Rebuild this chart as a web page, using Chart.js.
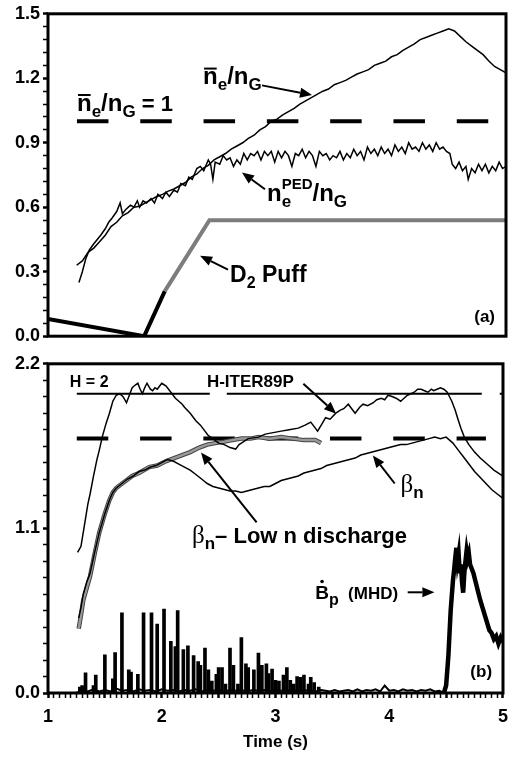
<!DOCTYPE html>
<html>
<head>
<meta charset="utf-8">
<script src="https://cdn.jsdelivr.net/npm/chart.js@4.4.1/dist/chart.umd.min.js"></script>
<style>
  html, body { margin:0; padding:0; background:#fff; }
  #wrap { position:relative; width:516px; height:757px; }
  #topBox { position:absolute; left:0; top:0; width:516px; height:350px; }
  #botBox { position:absolute; left:0; top:350px; width:516px; height:407px; }
</style>
</head>
<body>
<div id="wrap">
  <div id="topBox"><canvas id="chartA" width="516" height="350"></canvas></div>
  <div id="botBox"><canvas id="chartB" width="516" height="407"></canvas></div>
</div>
<script>
const FONT = "'Liberation Sans', Arial, Helvetica, sans-serif";
const SERIF = "'Liberation Serif', 'Times New Roman', serif";
Chart.defaults.font.family = FONT;
Chart.defaults.color = '#000';

// ---------- panel (a): density ----------
const neTime = [1.25,1.30,1.35,1.40,1.45,1.50,1.55,1.60,1.65,1.70,1.75,1.80,1.85,1.90,1.95,2.00,2.05,2.10,2.15,2.20,2.25,2.30,2.35,2.40,2.45,2.50,2.55,2.60,2.65,2.70,2.75,2.80,2.85,2.90,2.95,3.00,3.05,3.10,3.15,3.20,3.25,3.30,3.35,3.40,3.45,3.50,3.55,3.60,3.65,3.70,3.75,3.80,3.85,3.90,3.95,4.00,4.05,4.10,4.15,4.20,4.25,4.30,4.35,4.40,4.45,4.50,4.55,4.60,4.65,4.70,4.75,4.80,4.85,4.90,4.95,5.00];
const neRatio = [0.33,0.35,0.39,0.41,0.44,0.47,0.51,0.53,0.56,0.575,0.60,0.605,0.62,0.635,0.65,0.66,0.675,0.685,0.70,0.715,0.74,0.755,0.78,0.795,0.82,0.835,0.85,0.87,0.885,0.90,0.92,0.935,0.96,0.975,1.00,1.01,1.03,1.045,1.06,1.08,1.095,1.11,1.125,1.14,1.15,1.17,1.18,1.19,1.205,1.22,1.23,1.24,1.26,1.27,1.28,1.30,1.31,1.33,1.345,1.36,1.38,1.39,1.40,1.41,1.42,1.43,1.42,1.395,1.37,1.35,1.33,1.31,1.28,1.255,1.24,1.225];
// pedestal density / Greenwald  [time, value]
const pedPoints = [[1.27,0.25],[1.30,0.30],[1.33,0.36],[1.36,0.40],[1.40,0.43],[1.43,0.45],[1.46,0.47],[1.50,0.50],[1.53,0.53],[1.56,0.55],[1.60,0.58],[1.63,0.62],[1.65,0.57],[1.68,0.59],[1.72,0.61],[1.75,0.60],[1.78,0.63],[1.80,0.60],[1.83,0.63],[1.86,0.62],[1.90,0.64],[1.93,0.62],[1.96,0.66],[2.00,0.64],[2.03,0.67],[2.06,0.65],[2.10,0.68],[2.13,0.67],[2.16,0.71],[2.20,0.70],[2.23,0.74],[2.26,0.73],[2.30,0.78],[2.33,0.79],[2.36,0.77],[2.40,0.82],[2.42,0.80],[2.44,0.73],[2.46,0.81],[2.50,0.80],[2.53,0.84],[2.56,0.82],[2.59,0.83],[2.62,0.79],[2.65,0.82],[2.68,0.80],[2.71,0.85],[2.74,0.82],[2.77,0.85],[2.80,0.84],[2.83,0.86],[2.86,0.82],[2.89,0.86],[2.92,0.84],[2.95,0.86],[2.98,0.81],[3.01,0.86],[3.04,0.83],[3.07,0.86],[3.10,0.84],[3.13,0.79],[3.16,0.85],[3.19,0.84],[3.22,0.87],[3.25,0.83],[3.28,0.86],[3.31,0.84],[3.34,0.79],[3.37,0.86],[3.40,0.84],[3.43,0.85],[3.46,0.82],[3.49,0.84],[3.52,0.83],[3.55,0.86],[3.58,0.82],[3.61,0.85],[3.64,0.83],[3.67,0.87],[3.70,0.84],[3.73,0.86],[3.76,0.82],[3.79,0.88],[3.82,0.85],[3.85,0.87],[3.88,0.84],[3.91,0.88],[3.94,0.85],[3.97,0.87],[4.00,0.84],[4.03,0.89],[4.06,0.86],[4.09,0.88],[4.12,0.85],[4.15,0.90],[4.18,0.87],[4.21,0.88],[4.24,0.86],[4.27,0.90],[4.30,0.87],[4.33,0.89],[4.36,0.86],[4.39,0.90],[4.42,0.87],[4.45,0.88],[4.48,0.86],[4.51,0.85],[4.53,0.80],[4.56,0.78],[4.59,0.81],[4.62,0.77],[4.65,0.79],[4.67,0.73],[4.70,0.78],[4.73,0.76],[4.76,0.80],[4.79,0.77],[4.82,0.80],[4.85,0.76],[4.88,0.79],[4.91,0.77],[4.94,0.81],[4.97,0.78],[5.00,0.79]];
const puffBlack = [[1.00,0.08],[1.84,0.0],[2.02,0.21]];
const puffGray = [[2.02,0.21],[2.41,0.54],[5.00,0.54]];
const greenwaldLine = [[1.253,1.0],[4.85,1.0]];

// ---------- panel (b): confinement, beta, MHD ----------
const hIterPoints = [[1.26,0.94],[1.29,0.98],[1.32,1.12],[1.35,1.26],[1.37,1.33],[1.40,1.45],[1.43,1.56],[1.45,1.62],[1.48,1.72],[1.51,1.80],[1.54,1.87],[1.57,1.95],[1.60,1.99],[1.63,2.00],[1.66,1.98],[1.69,1.94],[1.72,2.00],[1.74,2.04],[1.77,2.06],[1.79,2.07],[1.81,2.03],[1.83,2.00],[1.85,2.04],[1.87,2.07],[1.90,2.03],[1.92,2.02],[1.94,2.04],[1.96,2.03],[1.98,2.05],[2.00,2.07],[2.02,2.06],[2.04,2.05],[2.07,2.02],[2.09,2.00],[2.12,1.97],[2.15,1.95],[2.18,1.93],[2.20,1.91],[2.25,1.87],[2.30,1.82],[2.34,1.79],[2.37,1.76],[2.41,1.72],[2.45,1.70],[2.50,1.67],[2.55,1.66],[2.60,1.64],[2.65,1.63],[2.68,1.66],[2.72,1.68],[2.76,1.70],[2.85,1.71],[2.91,1.73],[2.98,1.74],[3.05,1.75],[3.12,1.76],[3.20,1.77],[3.26,1.79],[3.31,1.81],[3.34,1.78],[3.37,1.75],[3.41,1.80],[3.44,1.84],[3.48,1.83],[3.53,1.87],[3.57,1.89],[3.60,1.90],[3.64,1.93],[3.67,1.90],[3.70,1.87],[3.74,1.91],[3.77,1.93],[3.81,1.92],[3.86,1.94],[3.89,1.96],[3.93,1.97],[3.96,1.96],[3.99,1.99],[4.03,1.98],[4.06,1.97],[4.10,1.95],[4.13,1.97],[4.16,1.99],[4.19,2.00],[4.22,2.01],[4.25,2.03],[4.28,2.03],[4.31,2.02],[4.34,2.01],[4.37,2.03],[4.39,2.02],[4.42,2.03],[4.45,2.04],[4.48,2.03],[4.51,2.01],[4.53,1.98],[4.55,1.95],[4.58,1.89],[4.60,1.84],[4.63,1.77],[4.66,1.71],[4.70,1.66],[4.75,1.61],[4.80,1.57],[4.86,1.53],[4.92,1.49],[4.96,1.47],[5.00,1.45]];
const betaNPoints = [[1.27,0.50],[1.29,0.57],[1.31,0.66],[1.34,0.74],[1.37,0.80],[1.41,0.94],[1.45,1.07],[1.50,1.20],[1.54,1.29],[1.57,1.34],[1.60,1.37],[1.65,1.40],[1.70,1.43],[1.75,1.45],[1.80,1.48],[1.85,1.49],[1.90,1.51],[1.95,1.52],[2.00,1.54],[2.05,1.56],[2.10,1.55],[2.15,1.53],[2.20,1.51],[2.25,1.49],[2.30,1.46],[2.35,1.43],[2.40,1.40],[2.45,1.38],[2.50,1.37],[2.55,1.36],[2.60,1.35],[2.65,1.35],[2.70,1.34],[2.75,1.35],[2.80,1.36],[2.85,1.37],[2.90,1.38],[2.95,1.38],[3.00,1.40],[3.05,1.42],[3.10,1.43],[3.15,1.44],[3.20,1.45],[3.25,1.47],[3.30,1.48],[3.35,1.49],[3.40,1.50],[3.45,1.52],[3.50,1.53],[3.55,1.54],[3.60,1.55],[3.65,1.56],[3.70,1.57],[3.75,1.59],[3.80,1.60],[3.85,1.61],[3.90,1.62],[3.95,1.63],[4.00,1.64],[4.05,1.65],[4.10,1.66],[4.15,1.66],[4.20,1.67],[4.25,1.68],[4.30,1.69],[4.35,1.70],[4.40,1.71],[4.45,1.70],[4.50,1.71],[4.53,1.69],[4.56,1.67],[4.60,1.63],[4.65,1.58],[4.70,1.53],[4.75,1.48],[4.80,1.44],[4.85,1.40],[4.90,1.36],[4.95,1.33],[5.00,1.30]];
const lowNPoints = [[1.27,0.43],[1.29,0.52],[1.31,0.62],[1.34,0.70],[1.37,0.78],[1.41,0.93],[1.45,1.07],[1.50,1.20],[1.54,1.29],[1.57,1.34],[1.60,1.37],[1.67,1.41],[1.74,1.45],[1.80,1.47],[1.89,1.51],[1.96,1.52],[2.04,1.55],[2.11,1.57],[2.18,1.59],[2.25,1.61],[2.33,1.64],[2.40,1.66],[2.47,1.67],[2.55,1.68],[2.62,1.69],[2.70,1.70],[2.78,1.70],[2.85,1.71],[2.95,1.70],[3.05,1.71],[3.15,1.70],[3.25,1.69],[3.35,1.69],[3.40,1.67]];
const hTwoLine = [[1.253,2.0],[5.0,2.0]];
const betaRefLine = [[1.253,1.7],[4.85,1.7]];
// Bdot spikes
const bdotTime = [1.28,1.30,1.33,1.40,1.42,1.50,1.57,1.59,1.65,1.71,1.73,1.79,1.84,1.91,1.96,2.02,2.08,2.12,2.14,2.19,2.23,2.28,2.32,2.34,2.38,2.41,2.44,2.48,2.50,2.53,2.56,2.60,2.63,2.67,2.70,2.74,2.76,2.81,2.85,2.88,2.92,2.94,2.97,3.00,3.03,3.07,3.10,3.13,3.16,3.19,3.22,3.25,3.29,3.31,3.34,3.38];
const bdotSpike = [0.04,0.05,0.135,0.05,0.12,0.255,0.095,0.27,0.535,0.155,0.14,0.125,0.535,0.535,0.46,0.56,0.345,0.31,0.55,0.29,0.315,0.25,0.21,0.185,0.30,0.155,0.08,0.125,0.17,0.17,0.06,0.30,0.185,0.06,0.37,0.195,0.17,0.155,0.267,0.185,0.195,0.13,0.16,0.085,0.08,0.12,0.17,0.085,0.06,0.11,0.105,0.12,0.06,0.105,0.07,0.04];
const bdotFloor = [[1.25,0.0],[1.30,0.02],[1.35,0.01],[1.40,0.025],[1.45,0.01],[1.50,0.02],[1.55,0.01],[1.60,0.03],[1.65,0.015],[1.70,0.02],[1.75,0.01],[1.80,0.025],[1.85,0.015],[1.90,0.02],[1.95,0.01],[2.00,0.025],[2.05,0.015],[2.10,0.02],[2.15,0.01],[2.20,0.02],[2.25,0.015],[2.30,0.025],[2.35,0.01],[2.40,0.02],[2.45,0.015],[2.50,0.02],[2.55,0.01],[2.60,0.02],[2.65,0.015],[2.70,0.02],[2.75,0.01],[2.80,0.02],[2.85,0.015],[2.90,0.02],[2.95,0.01],[3.00,0.02],[3.05,0.015],[3.10,0.02],[3.15,0.01],[3.20,0.02],[3.25,0.015],[3.30,0.02],[3.35,0.01],[3.40,0.02],[3.44,0.015],[3.48,0.01],[3.52,0.02],[3.56,0.01],[3.60,0.015],[3.64,0.02],[3.68,0.01],[3.72,0.025],[3.76,0.01],[3.80,0.02],[3.84,0.015],[3.88,0.025],[3.92,0.01],[3.96,0.05],[4.00,0.015],[4.04,0.02],[4.08,0.01],[4.12,0.025],[4.16,0.015],[4.20,0.02],[4.24,0.01],[4.28,0.02],[4.32,0.015],[4.36,0.025],[4.40,0.01],[4.44,0.015],[4.48,0.0]];
const mhdPoints = [[4.48,0.0],[4.50,0.05],[4.52,0.25],[4.54,0.55],[4.56,0.75],[4.57,0.82],[4.58,0.90],[4.59,0.97],[4.60,0.88],[4.61,0.93],[4.62,0.80],[4.63,0.86],[4.64,0.74],[4.65,0.67],[4.66,0.80],[4.67,0.88],[4.68,0.95],[4.69,0.90],[4.70,0.93],[4.71,0.86],[4.72,0.84],[4.74,0.80],[4.76,0.74],[4.78,0.68],[4.80,0.62],[4.82,0.57],[4.84,0.52],[4.86,0.47],[4.88,0.42],[4.90,0.40],[4.92,0.36],[4.94,0.38],[4.96,0.33],[4.98,0.37],[5.00,0.34]];

// ---------- ticks ----------
const topYTicks = [];
for (let i = 0; i <= 25; i++) topYTicks.push(+(i * 0.06).toFixed(2));
const botYTicks = [];
for (let i = 0; i <= 20; i++) botYTicks.push(+(i * 0.11).toFixed(2));
const timeTicks = [];
for (let i = 0; i <= 80; i++) timeTicks.push(+(1 + i * 0.05).toFixed(2));
const timeLabels = ['1', '2', '3', '4', '5'];

// ---------- annotations (anchor in data units) ----------
const topNotes = [
  {x: 1.253, y: 1.049, parts: [{t:'n',s:24,over:true},{t:'e',s:17,dy:6},{t:'/',s:24},{t:'n',s:24},{t:'G',s:17,dy:6},{t:' = 1',s:22}]},
  {x: 2.354, y: 1.172, parts: [{t:'n',s:24,over:true},{t:'e',s:17,dy:6},{t:'/',s:24},{t:'n',s:24},{t:'G',s:17,dy:6}]},
  {x: 2.913, y: 0.629, parts: [{t:'n',s:24},{t:'e',s:17,dy:6,stack:true},{t:'PED',s:15,dy:-12},{t:'/',s:24},{t:'n',s:24},{t:'G',s:17,dy:6}]},
  {x: 2.590, y: 0.251, parts: [{t:'D',s:23},{t:'2',s:16,dy:6},{t:' Puff',s:23}]},
  {x: 4.904, y: 0.068, align: 'right', parts: [{t:'(a)',s:17}]}
];
const topArrows = [[2.869,1.167,3.306,1.122],[2.895,0.684,2.694,0.762],[2.572,0.310,2.328,0.374]];
const botNotes = [
  {x: 1.192, y: 2.047, parts: [{t:'H = 2',s:16}]},
  {x: 2.397, y: 2.047, parts: [{t:'H-ITER89P',s:17}]},
  {x: 2.266, y: 1.0, parts: [{t:'\u03b2',s:25,w:'normal',f:SERIF},{t:'n',s:17,dy:6},{t:'\u2013 Low n discharge',s:22}]},
  {x: 4.100, y: 1.34, parts: [{t:'\u03b2',s:25,w:'normal',f:SERIF},{t:'n',s:17,dy:6}]},
  {x: 3.349, y: 0.627, parts: [{t:'B',s:19,dot:true},{t:'p',s:16,dy:6}]},
  {x: 3.638, y: 0.627, parts: [{t:'(MHD)',s:17}]},
  {x: 4.904, y: 0.107, align: 'right', parts: [{t:'(b)',s:17}]}
];
const botArrows = [[3.245,2.067,3.533,1.867],[2.834,1.14,2.345,1.607],[4.048,1.40,3.856,1.587],[4.162,0.673,4.397,0.673]];

function pts(arr) { return arr.map(p => ({x: p[0], y: p[1]})); }

function setFont(ctx, p) {
  ctx.font = (p.w || 'bold') + ' ' + p.s + 'px ' + (p.f || FONT);
}

function richText(ctx, x, y, parts, align) {
  let total = 0;
  parts.forEach(p => { setFont(ctx, p); if (!p.stack) total += ctx.measureText(p.t).width; });
  let cx = align === 'right' ? x - total : x;
  ctx.textAlign = 'left';
  ctx.textBaseline = 'alphabetic';
  parts.forEach(p => {
    setFont(ctx, p);
    const w = ctx.measureText(p.t).width;
    ctx.fillText(p.t, cx, y + (p.dy || 0));
    if (p.over) ctx.fillRect(cx + 1, y - p.s * 0.53 - 4, w - 2, 2);
    if (p.dot) { ctx.beginPath(); ctx.arc(cx + w / 2, y - p.s * 0.72 - 4, 1.8, 0, Math.PI * 2); ctx.fill(); }
    if (!p.stack) cx += w;
  });
}

function arrow(ctx, x1, y1, x2, y2) {
  const ang = Math.atan2(y2 - y1, x2 - x1), L = 12, W = 5;
  const bx = x2 - L * Math.cos(ang), by = y2 - L * Math.sin(ang);
  ctx.lineWidth = 2;
  ctx.beginPath(); ctx.moveTo(x1, y1); ctx.lineTo(bx, by); ctx.stroke();
  ctx.beginPath();
  ctx.moveTo(x2, y2);
  ctx.lineTo(bx - W * Math.sin(ang), by + W * Math.cos(ang));
  ctx.lineTo(bx + W * Math.sin(ang), by - W * Math.cos(ang));
  ctx.closePath(); ctx.fill();
}

// frame + texts + arrows on top of everything
function makeDecor(notes, arrows) {
  return {
    id: 'decor',
    afterDraw(chart) {
      const {ctx, chartArea: a, scales: {x, y}} = chart;
      ctx.save();
      ctx.strokeStyle = '#000';
      ctx.fillStyle = '#000';
      ctx.lineWidth = 3;
      ctx.strokeRect(a.left, a.top, a.right - a.left, a.bottom - a.top);
      notes.forEach(n => richText(ctx, x.getPixelForValue(n.x), y.getPixelForValue(n.y), n.parts, n.align));
      arrows.forEach(r => arrow(ctx, x.getPixelForValue(r[0]), y.getPixelForValue(r[1]), x.getPixelForValue(r[2]), y.getPixelForValue(r[3])));
      ctx.restore();
    }
  };
}

function yAxis(max, ticks, every) {
  return {
    min: 0, max: max,
    afterBuildTicks: s => { s.ticks = ticks.map(v => ({value: v})); },
    afterFit: s => { s.width = 48; },
    border: {display: false},
    grid: {drawOnChartArea: false, tickLength: 5, tickColor: '#000',
      tickWidth: c => (c.index % every === 0 ? 2.5 : 1.5)},
    ticks: {autoSkip: false, padding: 3, color: '#000', font: {size: 18, weight: 'bold'},
      callback: (v, i) => (i % every === 0 ? v.toFixed(1) : '')}
  };
}

const lineDefaults = {
  responsive: false,
  animation: false,
  devicePixelRatio: 1,
  elements: {point: {radius: 0}, line: {tension: 0, borderColor: '#000', borderCapStyle: 'butt'}},
  plugins: {legend: {display: false}, tooltip: {enabled: false}}
};

new Chart(document.getElementById('chartA'), {
  type: 'line',
  data: {
    datasets: [
      {label: 'ne/nG', data: neTime.map((t, i) => ({x: t, y: neRatio[i]})), borderColor: '#000', borderWidth: 1.5},
      {label: 'ne PED/nG', data: pts(pedPoints), borderColor: '#000', borderWidth: 1.5},
      {label: 'ne/nG = 1', data: pts(greenwaldLine), borderColor: '#000', borderWidth: 4, borderDash: [31.5, 31.8]},
      {label: 'D2 puff', data: pts(puffGray), borderColor: '#7d7d7d', borderWidth: 4},
      {label: 'D2 puff start', data: pts(puffBlack), borderColor: '#000', borderWidth: 4}
    ]
  },
  options: Object.assign({}, lineDefaults, {
    layout: {padding: {left: 0, right: 10, top: 11, bottom: 10}},
    scales: {
      x: {type: 'linear', min: 1, max: 5, display: false},
      y: yAxis(1.5, topYTicks, 5)
    }
  }),
  plugins: [makeDecor(topNotes, topArrows)]
});

new Chart(document.getElementById('chartB'), {
  type: 'line',
  data: {
    datasets: [
      {label: 'H-ITER89P', data: pts(hIterPoints), borderColor: '#000', borderWidth: 1.5},
      {label: 'beta n', data: pts(betaNPoints), borderColor: '#000', borderWidth: 1.5},
      {label: 'beta n low n', data: pts(lowNPoints), borderColor: '#9a9a9a', borderWidth: 2.5},
      {label: 'beta n low n edge', data: pts(lowNPoints), borderColor: '#444', borderWidth: 4.5},
      {label: 'H = 2', data: pts(hTwoLine), borderColor: '#000', borderWidth: 2, borderDash: [133, 17, 255, 18]},
      {label: 'beta ref', data: pts(betaRefLine), borderColor: '#000', borderWidth: 4, borderDash: [31.5, 31.8]},
      {label: 'Bdot MHD', data: pts(mhdPoints), borderColor: '#000', borderWidth: 4.5},
      {label: 'Bdot floor', data: pts(bdotFloor), borderColor: '#000', borderWidth: 2},
      {type: 'bar', label: 'Bdot', data: bdotTime.map((t, i) => ({x: t, y: bdotSpike[i]})),
        backgroundColor: '#000', borderWidth: 0, barThickness: 3}
    ]
  },
  options: Object.assign({}, lineDefaults, {
    layout: {padding: {left: 0, right: 10, top: 13, bottom: 0}},
    scales: {
      x: {
        type: 'linear', min: 1, max: 5, offset: false,
        afterBuildTicks: s => { s.ticks = timeTicks.map(v => ({value: v})); },
        afterFit: s => { s.height = 64; },
        border: {display: false},
        grid: {drawOnChartArea: false, offset: false, tickLength: 5, tickColor: '#000',
          tickWidth: c => (c.index % 10 === 0 ? 2.5 : 1.5)},
        ticks: {autoSkip: false, maxRotation: 0, padding: 8, color: '#000',
          font: {size: 18, weight: 'bold'},
          callback: (v, i) => (i % 20 === 0 ? timeLabels[i / 20] : '')},
        title: {display: true, text: 'Time (s)', color: '#000',
          font: {size: 17, weight: 'bold'}, padding: {top: 0, bottom: 4}}
      },
      y: yAxis(2.2, botYTicks, 10)
    }
  }),
  plugins: [makeDecor(botNotes, botArrows)]
});
</script>
</body>
</html>
